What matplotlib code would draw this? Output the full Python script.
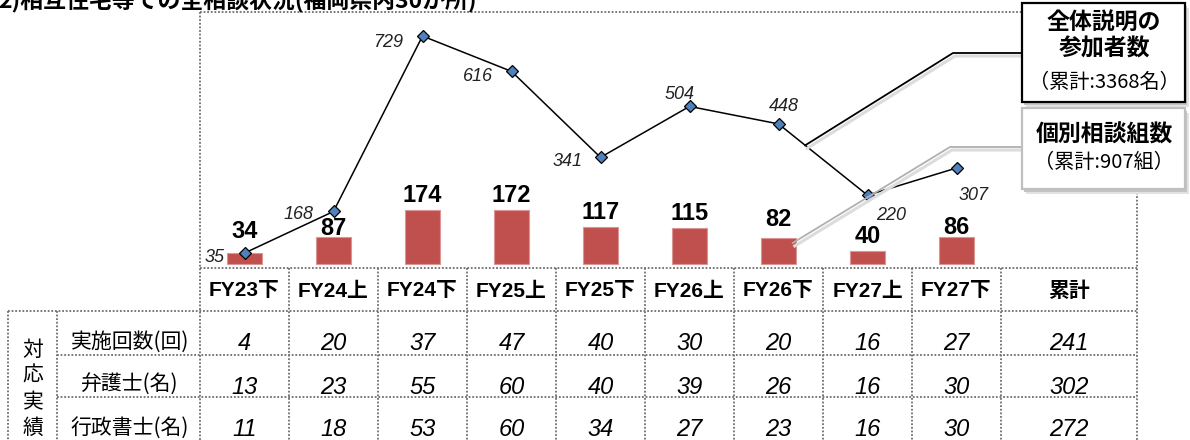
import matplotlib
matplotlib.use("Agg")
import matplotlib.pyplot as plt
from matplotlib.patches import Rectangle

# data
periods = ["FY23下", "FY24上", "FY24下", "FY25上", "FY25下", "FY26上", "FY26下", "FY27上", "FY27下"]
participants = [35, 168, 729, 616, 341, 504, 448, 220, 307]
consult_groups = [34, 87, 174, 172, 117, 115, 82, 40, 86]
row_labels = ["実施回数(回)", "弁護士(名)", "行政書士(名)"]
sessions = [4, 20, 37, 47, 40, 30, 20, 16, 27]
lawyers = [13, 23, 55, 60, 40, 39, 26, 16, 30]
scriveners = [11, 18, 53, 60, 34, 27, 23, 16, 30]
row_totals = [241, 302, 272]
total_header = "累計"
side_label = "対応実績"
title = "2)相互住宅等での全相談状況(福岡県内30か所)"
line_callout = ["全体説明の", "参加者数", "（累計:3368名）"]
bar_callout = ["個別相談組数", "（累計:907組）"]

# layout (pixels)
W, H = 1190, 440
COL0, COL_W, RIGHT = 200, 89, 1137
PLOT_TOP, PLOT_BOT = 12, 268
ZERO_PX, PX_PER_UNIT = 264, 0.3127
ROW_LINES = [311, 355, 397]
ROW_MID = [342, 385, 428]

CJK = ["Noto Sans CJK JP"]
MIX = ["Liberation Sans", "Noto Sans CJK JP"]
BORDER = dict(color="#6e6e6e", lw=1.3, linestyle=(0, (1, 1)))

# label placement relative to the markers (pixels, x right / y down)
line_label_off = [(-30, 2), (-35, 1.5), (-34, 4), (-34, 3.5), (-33, 2.5),
                  (-10, -14), (5, -19), (24, 18), (17, 25)]
bar_label_nudge = [7, -6, 0, 0, 0, 0, 4, 0, -5]

fig = plt.figure(figsize=(W / 100, H / 100), dpi=100)

ax = fig.add_axes([COL0 / W, 1 - PLOT_BOT / H, (RIGHT - COL0) / W, (PLOT_BOT - PLOT_TOP) / H])
ax.set_xlim(-0.5, -0.5 + (RIGHT - COL0) / COL_W)
ax.set_ylim(-(PLOT_BOT - ZERO_PX) / PX_PER_UNIT, (ZERO_PX - PLOT_TOP) / PX_PER_UNIT)
ax.axis("off")

x = list(range(len(periods)))
ax.bar(x, consult_groups, width=0.4, color="#C0504D", edgecolor="#D99694", linewidth=0.8, zorder=2)
ax.plot(x, participants, color="black", lw=1.1, marker="D", markersize=6.4,
        markerfacecolor="#4F81BD", markeredgecolor="black", markeredgewidth=0.9, zorder=3)

for i, v in enumerate(consult_groups):
    ax.annotate(str(v), (i, v), xytext=(0, 8 + bar_label_nudge[i]), textcoords="offset pixels",
                ha="center", va="baseline", fontsize=17, fontweight="bold",
                family="Liberation Sans", color="black", zorder=4)

for i, v in enumerate(participants):
    dx, dy = line_label_off[i]
    ax.annotate(str(v), (i, v), xytext=(dx, -(dy + 6.5)), textcoords="offset pixels",
                ha="center", va="baseline", fontsize=13, style="italic",
                family="Liberation Sans", color="#222222", zorder=4)

# overlay in pixel coordinates for table, frame, callouts
deco = fig.add_axes([0, 0, 1, 1], zorder=5)
deco.set_xlim(0, W)
deco.set_ylim(H, 0)
deco.axis("off")

# the title is cropped at the top edge, as in the source
deco.text(-2, 1, title, family=CJK, fontsize=16.5, fontweight="bold", ha="left", va="center")

# plot frame
deco.plot([COL0, RIGHT], [PLOT_TOP, PLOT_TOP], **BORDER)
deco.plot([COL0, COL0], [PLOT_TOP, H], **BORDER)
deco.plot([RIGHT, RIGHT], [PLOT_TOP, H], **BORDER)
deco.plot([COL0, RIGHT], [PLOT_BOT, PLOT_BOT], **BORDER)

# table grid
edges = [COL0 + COL_W * i for i in range(len(periods) + 1)] + [RIGHT]
for e in edges[1:-1]:
    deco.plot([e, e], [PLOT_BOT, H], **BORDER)
deco.plot([8, RIGHT], [ROW_LINES[0], ROW_LINES[0]], **BORDER)
for yl in ROW_LINES[1:]:
    deco.plot([57, RIGHT], [yl, yl], **BORDER)
for xl in (8, 57):
    deco.plot([xl, xl], [ROW_LINES[0], H], **BORDER)

centers = [(edges[i] + edges[i + 1]) / 2 for i in range(len(edges) - 1)]
for cx, lab in zip(centers, periods + [total_header]):
    deco.text(cx, 291, lab, family=MIX, fontsize=15, fontweight="bold", ha="center", va="center")

for r, (lab, vals, tot) in enumerate(zip(row_labels, [sessions, lawyers, scriveners], row_totals)):
    ym = ROW_MID[r]
    deco.text(130, ym, lab, family=CJK, fontsize=15, ha="center", va="center")
    for cx, v in zip(centers, vals + [tot]):
        deco.text(cx, ym + 8.5, str(v), family="Liberation Sans", style="italic",
                  fontsize=17, ha="center", va="baseline")

for k, ch in enumerate(side_label):
    deco.text(33, 350 + 26 * k, ch, family=CJK, fontsize=15, ha="center", va="center")


def to_px(xd, yd):
    p = ax.transData.transform((xd, yd))
    return deco.transData.inverted().transform(p)


def leader(pts, color):
    xs = [p[0] for p in pts]
    ys = [p[1] for p in pts]
    deco.plot([v + 2 for v in xs], [v + 3 for v in ys], color="#dcdcdc", lw=2.2, zorder=1)
    deco.plot(xs, ys, color=color, lw=1.3, zorder=2)


# black leader to the participants line (between FY26下 and FY27上)
t = 0.3
ax_pt = to_px(6 + t, participants[6] + t * (participants[7] - participants[6]))
leader([ax_pt, (953, 53), (1022, 53)], "black")
# grey leader to the FY26下 bar
bar_pt = to_px(6.16, consult_groups[6] * 0.82)
leader([bar_pt, (950, 147), (1022, 147)], "#b0b0b0")


def callout(x0, y0, w, h, edge):
    deco.add_patch(Rectangle((x0 + 4, y0 + 5), w, h, facecolor="#e2e2e2", edgecolor="none", zorder=3))
    deco.add_patch(Rectangle((x0 + 2, y0 + 3), w, h, facecolor="#c4c4c4", edgecolor="none", zorder=3))
    deco.add_patch(Rectangle((x0, y0), w, h, facecolor="white", edgecolor=edge, lw=1.6, zorder=4))


callout(1022, 3, 163, 99, "black")
deco.text(1104, 22, line_callout[0], family=CJK, fontsize=16.5, fontweight="bold", ha="center", va="center", zorder=5)
deco.text(1104, 49, line_callout[1], family=CJK, fontsize=16.5, fontweight="bold", ha="center", va="center", zorder=5)
deco.text(1104, 82, line_callout[2], family=CJK, fontsize=14.5, ha="center", va="center", zorder=5)

callout(1022, 108, 163, 81, "#bfbfbf")
deco.text(1104, 135, bar_callout[0], family=CJK, fontsize=16.5, fontweight="bold", ha="center", va="center", zorder=5)
deco.text(1104, 162, bar_callout[1], family=CJK, fontsize=14.5, ha="center", va="center", zorder=5)

fig.savefig("out.png", dpi=100)
plt.close(fig)
